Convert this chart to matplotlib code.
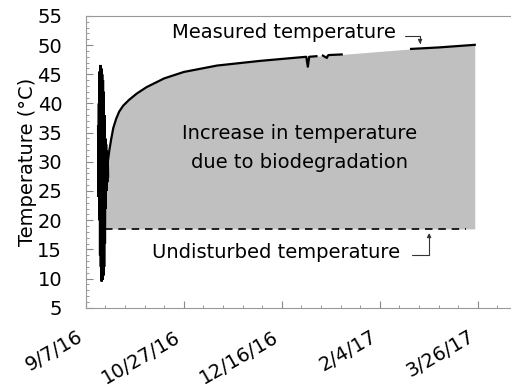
import numpy as np
import matplotlib
matplotlib.use("Agg")
import matplotlib.pyplot as plt
from matplotlib.ticker import MultipleLocator

plt.rcParams['font.family'] = ['DejaVu Sans']

start = np.datetime64('2016-09-07')

# early probe noise (days since 9/7/16, deg C)
noise_days = [6.3, 6.5, 6.7, 6.9, 7.1, 7.3, 7.5, 7.7, 7.9, 8.1, 8.3, 8.5, 8.7, 8.9,
              9.1, 9.3, 9.5, 9.7, 9.9, 10.1, 10.3, 10.5, 10.7, 10.9, 11.1, 11.3]
noise_temp = [36, 24, 40, 20, 45.5, 14, 46.6, 12, 46, 9.5, 45, 9.8, 44, 10.5,
              42, 12, 38, 16, 34, 22, 33, 25, 32, 26.5, 31.5, 27.5]

# measured temperature, NaN = missing record
meas_days = [10, 11, 12, 13, 14, 15.5, 17, 19, 22, 26, 31, 40, 50, 67, 89, 104, 112.5, 113.3, 114, 117.7,
             119, 121, 123, 123.5, 124, 130.6, 148, 166, 180, 198.5]
meas_temp = [26.5, 29.5, 32, 34, 35.8, 37.4, 38.6, 39.6, 40.6, 41.7, 42.8, 44.3, 45.4, 46.5, 47.3, 47.75, 48.0, 46.3, 48.0, 48.1,
             np.nan, 48.2, 47.8, 48.2, 48.3, 48.4, np.nan, 49.35, 49.6, 50.05]

undisturbed = 18.5
undist_days = [10, 194]

tick_days = [0, 50, 100, 150, 200]
tick_labels = ['9/7/16', '10/27/16', '12/16/16', '2/4/17', '3/26/17']

def to_dates(d):
    return start + (np.array(d) * 24 * 3600).astype('timedelta64[s]')

fig = plt.figure(figsize=(5.11, 3.89), dpi=100)
ax = fig.add_axes([0.168, 0.209, 0.832, 0.750])

md = np.array(meas_days)
mt = np.array(meas_temp)
ok = ~np.isnan(mt)
ax.fill_between(to_dates(md[ok]), undisturbed, mt[ok], color='#c0c0c0', lw=0)
ax.plot(to_dates(noise_days), noise_temp, color='black', lw=1.8, solid_joinstyle='miter')
ax.plot(to_dates(meas_days), meas_temp, color='black', lw=1.6)
ax.plot(to_dates(undist_days), [undisturbed] * 2, color='black', lw=1.2, dashes=(4.5, 3.5))

fs = 14
ax.text(to_dates([44])[0], 52.1, 'Measured temperature', fontsize=fs, ha='left', va='center')
ax.text(to_dates([33.8])[0], 14.5, 'Undisturbed temperature', fontsize=fs, ha='left', va='center')
ax.text(to_dates([109.3])[0], 32.4, 'Increase in temperature\ndue to biodegradation',
        fontsize=fs, ha='center', va='center', linespacing=1.65)

arrow = dict(arrowstyle='-|>', color='#333333', lw=0.8, mutation_scale=6,
             shrinkA=0, shrinkB=0, connectionstyle='angle,angleA=0,angleB=90,rad=0')
ax.annotate('', xy=(to_dates([170.6])[0], 50.2), xytext=(to_dates([163])[0], 51.6), arrowprops=arrow)
ax.annotate('', xy=(to_dates([175.2])[0], 17.8), xytext=(to_dates([166.3])[0], 14.1), arrowprops=arrow)

ax.set_xlim(to_dates([0])[0], to_dates([217])[0])
ax.set_ylim(5, 55)
ax.set_xticks(to_dates(tick_days))
ax.set_xticklabels(tick_labels, rotation=30, ha='right')
ax.set_xticks(to_dates(np.arange(0, 217, 10)), minor=True)
ax.yaxis.set_major_locator(MultipleLocator(5))
ax.yaxis.set_minor_locator(MultipleLocator(1))
ax.tick_params(which='both', direction='in', colors='#888888', labelcolor='black', labelsize=fs)
ax.tick_params(which='major', length=5)
ax.tick_params(which='minor', length=2.5)
ax.tick_params(axis='x', pad=14)
ax.tick_params(axis='y', pad=17)
ax.set_ylabel('Temperature (°C)', fontsize=fs, labelpad=0)

ax.spines['right'].set_visible(False)
for s in ['top', 'left', 'bottom']:
    ax.spines[s].set_color('#999999')

fig.savefig('out.png', dpi=100)
